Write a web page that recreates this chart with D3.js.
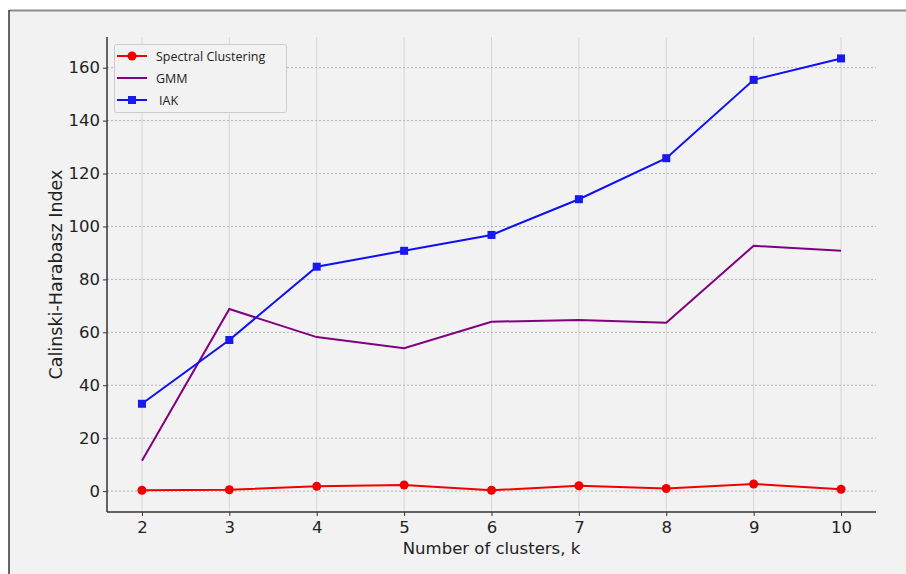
<!DOCTYPE html>
<html><head><meta charset="utf-8">
<script src="https://cdn.jsdelivr.net/npm/d3@7"></script>
<style>
html,body{margin:0;padding:0;background:#fff;}
svg{display:block;}
</style></head>
<body>
<svg id="chart" width="906" height="574"></svg>
<script>
const ks = [2,3,4,5,6,7,8,9,10];
const spectral = [0.3,0.5,1.8,2.3,0.3,2.0,1.0,2.7,0.7];
const gmm = [11.5,68.8,58.2,54.0,64.0,64.7,63.6,92.7,90.8];
const iak = [33.0,57.1,84.8,90.8,96.8,110.3,125.8,155.4,163.5];
const yTicks = [0,20,40,60,80,100,120,140,160];
const seriesNames = ["Spectral Clustering","GMM","IAK"];

const svg = d3.select("#chart");
// frame
svg.append("rect").attr("x",9).attr("y",11).attr("width",897).attr("height",563).attr("fill","#f2f2f2");
svg.append("line").attr("x1",9).attr("x2",906).attr("y1",10.5).attr("y2",10.5).attr("stroke","#8a8a8a").attr("stroke-width",2);
svg.append("line").attr("x1",9).attr("x2",9).attr("y1",10).attr("y2",574).attr("stroke","#333").attr("stroke-width",1.5);

const L=107, R=876, T=37, B=512;
const x = d3.scaleLinear().domain([1.6,10.4]).range([L,R]);
const y = d3.scaleLinear().domain([-7.9,171.6]).range([B,T]);

const g = svg.append("g");
// vertical grid
g.selectAll(".vg").data(ks).enter().append("line")
 .attr("x1",d=>x(d)).attr("x2",d=>x(d)).attr("y1",T).attr("y2",B)
 .attr("stroke","#d6d6d6").attr("stroke-width",1);
// horizontal grid
g.selectAll(".hg").data(yTicks).enter().append("line")
 .attr("x1",L).attr("x2",R).attr("y1",d=>y(d)).attr("y2",d=>y(d))
 .attr("stroke","#b3b3b3").attr("stroke-width",1).attr("stroke-dasharray","2,2");

// axes
const xAxis = d3.axisBottom(x).tickValues(ks).tickSize(4).tickPadding(5);
const yAxis = d3.axisLeft(y).tickValues(yTicks).tickSize(4).tickPadding(3);
const gx = svg.append("g").attr("transform",`translate(0,${B})`).call(xAxis);
const gy = svg.append("g").attr("transform",`translate(${L},0)`).call(yAxis);
[gx,gy].forEach(a=>{
  a.select(".domain").attr("stroke","#333").attr("stroke-width",1.5);
  a.selectAll(".tick line").attr("stroke","#333");
  a.selectAll("text").attr("fill","#222").style("font-family","DejaVu Sans").style("font-size","16.5px");
});
gx.select(".domain").attr("d",`M${L},0H${R}`);
gy.select(".domain").attr("d",`M0,${B}V${T}`);

// labels
svg.append("text").attr("x",(L+R)/2).attr("y",554).attr("text-anchor","middle")
 .style("font-family","DejaVu Sans").style("font-size","16.5px").attr("fill","#222").text("Number of clusters, k");
svg.append("text").attr("transform",`translate(62,${(T+B)/2}) rotate(-90)`).attr("text-anchor","middle")
 .style("font-family","DejaVu Sans").style("font-size","17.5px").attr("fill","#222").text("Calinski-Harabasz Index");

const line = d3.line().x((d,i)=>x(ks[i])).y(d=>y(d));
// GMM
svg.append("path").datum(gmm).attr("d",line).attr("fill","none").attr("stroke","#800080").attr("stroke-width",2);
// IAK
svg.append("path").datum(iak).attr("d",line).attr("fill","none").attr("stroke","#1010f0").attr("stroke-width",2);
svg.selectAll(".sq").data(iak).enter().append("rect")
 .attr("x",(d,i)=>x(ks[i])-4).attr("y",d=>y(d)-4).attr("width",8).attr("height",8).attr("fill","#1818f0");
// Spectral
svg.append("path").datum(spectral).attr("d",line).attr("fill","none").attr("stroke","#f00000").attr("stroke-width",2);
svg.selectAll(".ci").data(spectral).enter().append("circle")
 .attr("cx",(d,i)=>x(ks[i])).attr("cy",d=>y(d)).attr("r",4.5).attr("fill","#f00000");

// legend
const lg = svg.append("g");
lg.append("rect").attr("x",114.5).attr("y",44.5).attr("width",172).attr("height",68).attr("rx",2)
 .attr("fill","#f2f2f2").attr("stroke","#cccccc").attr("stroke-width",1);
const rows = [{n:seriesNames[0],c:"#f00000",m:"circle",tx:156},{n:seriesNames[1],c:"#800080",m:null,tx:156},{n:seriesNames[2],c:"#1010f0",m:"square",tx:159}];
rows.forEach((r,i)=>{
  const cy = 56 + i*22;
  lg.append("line").attr("x1",117).attr("x2",147).attr("y1",cy).attr("y2",cy).attr("stroke",r.c).attr("stroke-width",2);
  if(r.m==="circle") lg.append("circle").attr("cx",132).attr("cy",cy).attr("r",4.5).attr("fill",r.c);
  if(r.m==="square") lg.append("rect").attr("x",128).attr("y",cy-4).attr("width",8).attr("height",8).attr("fill","#1818f0");
  lg.append("text").attr("x",r.tx).attr("y",cy+4.5).style("font-family","Open Sans").style("font-size","12.5px").attr("fill","#222").text(r.n);
});
</script>
</body></html>
